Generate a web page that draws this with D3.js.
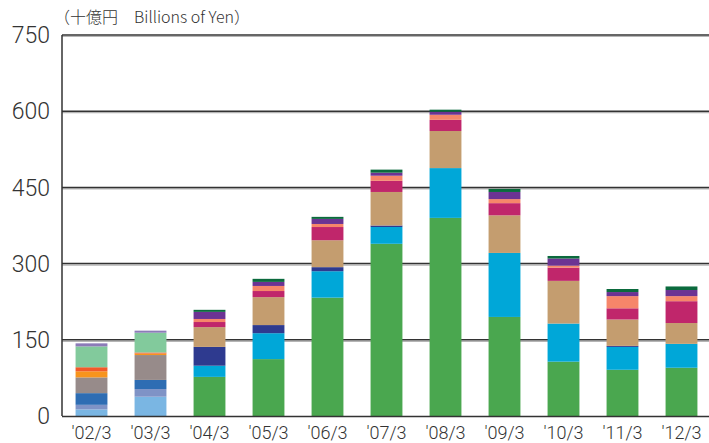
<!DOCTYPE html>
<html>
<head>
<meta charset="utf-8">
<script src="https://cdn.jsdelivr.net/npm/d3@7"></script>
<style>
    body { margin: 0; background: #fff; }
    svg { display: block; }
    .tick-label { font-family: Roboto, "Liberation Sans", sans-serif; font-weight: 300; fill: #333; }
    .title { font-family: "Noto Sans CJK JP", "Noto Sans", sans-serif; font-weight: 300; fill: #333; }
</style>
</head>
<body>
<svg width="709" height="443"></svg>
<script>
var categories = ["'02/3", "'03/3", "'04/3", "'05/3", "'06/3", "'07/3", "'08/3", "'09/3", "'10/3", "'11/3", "'12/3"];
var yTicks = [0, 150, 300, 450, 600, 750];

// '02/3 and '03/3 use a different breakdown
var lightBlue = [13, 38, 0, 0, 0, 0, 0, 0, 0, 0, 0];
var periwinkle = [9, 15, 0, 0, 0, 0, 0, 0, 0, 0, 0];
var midBlue = [23, 18, 0, 0, 0, 0, 0, 0, 0, 0, 0];
var grey = [31, 49, 0, 0, 0, 0, 0, 0, 0, 0, 0];
var orange = [12, 3, 0, 0, 0, 0, 0, 0, 0, 0, 0];
var redOrange = [8, 2, 0, 0, 0, 0, 0, 0, 0, 0, 0];
var mint = [41, 39, 0, 0, 0, 0, 0, 0, 0, 0, 0];
var lavender = [6, 4, 0, 0, 0, 0, 0, 0, 0, 0, 0];

var green = [0, 0, 77, 112, 233, 339, 390, 195, 107, 91, 95];
var cyan = [0, 0, 22, 51, 52, 33, 98, 126, 75, 45, 47];
var navy = [0, 0, 37, 16, 8, 3, 0, 0, 0, 2, 0];
var tan = [0, 0, 39, 55, 53, 66, 73, 74, 84, 52, 41];
var magenta = [0, 0, 10, 12, 26, 22, 22, 24, 26, 22, 43];
var salmon = [0, 0, 6, 10, 6, 10, 10, 8, 4, 24, 10];
var purple = [0, 0, 14, 8, 10, 6, 6, 14, 14, 8, 12];
var darkGreen = [0, 0, 4, 6, 4, 6, 4, 6, 5, 6, 7];

var series = [
    {key: "lightBlue", values: lightBlue, color: "#7ab6e3"},
    {key: "periwinkle", values: periwinkle, color: "#7f93c6"},
    {key: "midBlue", values: midBlue, color: "#2e6db3"},
    {key: "grey", values: grey, color: "#978b8a"},
    {key: "orange", values: orange, color: "#f7941d"},
    {key: "redOrange", values: redOrange, color: "#f15a29"},
    {key: "mint", values: mint, color: "#82ca9c"},
    {key: "lavender", values: lavender, color: "#8c7bb8"},
    {key: "green", values: green, color: "#4aa74f"},
    {key: "cyan", values: cyan, color: "#00a7d8"},
    {key: "navy", values: navy, color: "#2e3a8f"},
    {key: "tan", values: tan, color: "#c49d6f"},
    {key: "magenta", values: magenta, color: "#c0266b"},
    {key: "salmon", values: salmon, color: "#f6866a"},
    {key: "purple", values: purple, color: "#6c3393"},
    {key: "darkGreen", values: darkGreen, color: "#0b6a3d"}
];

var table = categories.map(function (c, i) {
    var row = {cat: c};
    series.forEach(function (s) { row[s.key] = s.values[i]; });
    return row;
});

var svg = d3.select("svg"),
    margin = {top: 35, right: 0, bottom: 27, left: 62},
    width = +svg.attr("width") - margin.left - margin.right,
    height = +svg.attr("height") - margin.top - margin.bottom;

var x = d3.scaleBand()
        .domain(categories)
        .range([0, 649])
        .paddingInner(0.46)
        .paddingOuter(0.23),
    y = d3.scaleLinear()
        .domain([0, 750])
        .range([height, 0]);

var g = svg
    .append("g")
    .attr("transform", "translate(" + margin.left + "," + margin.top + ")");

// gridlines (dark line with a lighter shade under it)
g.selectAll(".grid-shade")
    .data(yTicks.slice(1))
    .enter()
    .append("line")
    .attr("x1", 0)
    .attr("x2", width)
    .attr("y1", function (d) { return y(d) + 1.5; })
    .attr("y2", function (d) { return y(d) + 1.5; })
    .attr("stroke", "#b5b5b5")
    .attr("stroke-width", 1.2);

g.selectAll(".grid")
    .data(yTicks.slice(1))
    .enter()
    .append("line")
    .attr("x1", 0)
    .attr("x2", width)
    .attr("y1", function (d) { return y(d); })
    .attr("y2", function (d) { return y(d); })
    .attr("stroke", "#333")
    .attr("stroke-width", 1.5);

var stacked = d3.stack().keys(series.map(function (s) { return s.key; }))(table);

g.selectAll(".layer")
    .data(stacked)
    .enter()
    .append("g")
    .attr("fill", function (d, i) { return series[i].color; })
    .selectAll("rect")
    .data(function (d) { return d; })
    .enter()
    .append("rect")
    .attr("x", function (d) { return x(d.data.cat); })
    .attr("y", function (d) { return y(d[1]); })
    .attr("width", x.bandwidth())
    .attr("height", function (d) { return y(d[0]) - y(d[1]); });

// axis lines
g.append("line")
    .attr("x1", 0).attr("x2", 0)
    .attr("y1", y(750)).attr("y2", height)
    .attr("stroke", "#333")
    .attr("stroke-width", 1.5);

g.append("line")
    .attr("x1", 0).attr("x2", width)
    .attr("y1", height + 0.5).attr("y2", height + 0.5)
    .attr("stroke", "#333")
    .attr("stroke-width", 1.5);

g.selectAll(".y-label")
    .data(yTicks)
    .enter()
    .append("text")
    .attr("class", "tick-label")
    .attr("x", -12)
    .attr("y", function (d) { return y(d); })
    .attr("dy", "0.36em")
    .attr("text-anchor", "end")
    .style("font-size", "23px")
    .text(function (d) { return d; });

g.selectAll(".x-label")
    .data(categories)
    .enter()
    .append("text")
    .attr("class", "tick-label")
    .attr("x", function (d) { return x(d) + x.bandwidth() / 2; })
    .attr("y", height + 23)
    .attr("text-anchor", "middle")
    .style("font-size", "18px")
    .text(function (d) { return d; });

svg.append("text")
    .attr("class", "title")
    .attr("x", 54)
    .attr("y", 23)
    .style("font-size", "16px")
    .text("（十億円　Billions of Yen）");
</script>
</body>
</html>
